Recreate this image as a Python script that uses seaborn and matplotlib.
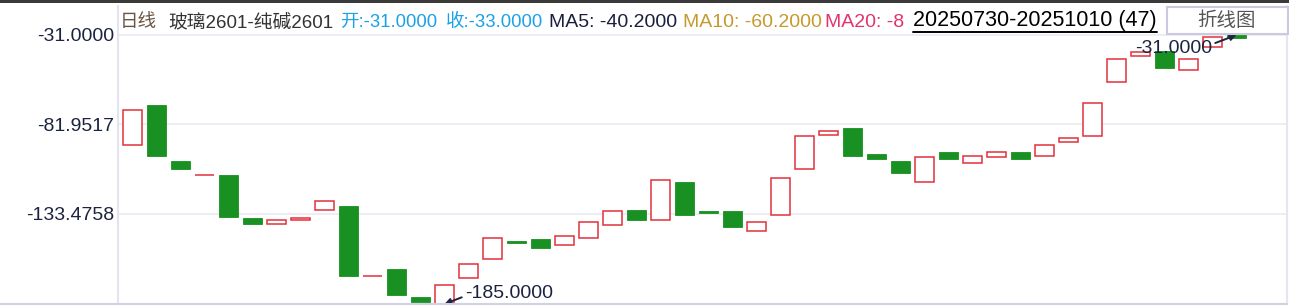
import matplotlib
matplotlib.use("Agg")
import matplotlib.pyplot as plt
from matplotlib.patches import Rectangle
from matplotlib.lines import Line2D
import numpy as np
import pandas as pd
import seaborn as sns

# ---------------- data ----------------
opens = [-94, -71, -103, -111, -111, -136, -139, -137, -131, -129,
         -169, -165, -181, -185, -170, -159, -149, -148, -151, -147,
         -140, -131, -137, -115, -132, -132, -143, -134, -108, -88,
         -84, -99, -103, -115, -98, -104, -101, -98, -100, -92,
         -89, -58, -43, -40, -51, -38, -31]
closes = [-74, -100, -108, -111, -135, -139, -137, -136, -126, -169,
          -169, -180, -184, -174, -162, -147, -150, -153, -146, -138,
          -132, -137, -114, -134, -133, -141, -138, -113, -89, -86,
          -100, -102, -110, -101, -102, -100, -98, -102, -94, -90,
          -70, -45, -41, -50, -45, -32, -33]
ytick_values = [-133.4758, -81.9517, -31.0]
ytick_labels = ["-133.4758", "-81.9517", "-31.0000"]
header_parts = [
    ("日线", "#6b5545", 13.3),
    ("玻璃2601-纯碱2601", "#333333", 13.5),
    ("开:-31.0000", "#1ba1e6", 13.3),
    ("收:-33.0000", "#1ba1e6", 13.3),
    ("MA5: -40.2000", "#1a1f3c", 14),
    ("MA10: -60.2000", "#c49a2c", 14),
    ("MA20: -8", "#e2336e", 14),
]
header_x = [120, 168, 340, 446, 549, 683, 825]
date_label = "20250730-20251010 (47)"
button_label = "折线图"

# ---------------- style ----------------
sns.set_style("white")
FAM = ["Liberation Sans", "Noto Sans CJK SC", "DejaVu Sans"]
plt.rcParams["font.family"] = FAM

W, H = 1289, 307
fx = lambda px: px / W
fy = lambda py: 1 - py / H

RED = "#e2303a"
GREEN = "#189022"
TXT = "#1c2340"

fig = plt.figure(figsize=(W / 100, H / 100), dpi=100)
ax = fig.add_axes([fx(118), 3 / H, (1287 - 118) / W, 298 / H])

n = len(opens)
df = pd.DataFrame({"i": np.arange(n), "o": opens, "c": closes})
df["h"] = df["c"] - df["o"]
sns.barplot(data=df, x="i", y="h", ax=ax, width=0.76, errorbar=None, color=GREEN)

for p, o, c in zip(ax.patches, df["o"], df["c"]):
    lo, hi = min(o, c), max(o, c)
    p.set_y(lo)
    p.set_height(hi - lo)
    if c >= o:
        p.set_facecolor("white")
        p.set_edgecolor(RED)
        p.set_linewidth(1.1)
    else:
        p.set_facecolor(GREEN)
        p.set_edgecolor(GREEN)
        p.set_linewidth(0.6)
    p.set_clip_on(False)

px_per_unit = 269 / 154.0
ax.set_xlim(-14.5 / 24, (1287 - 132.5) / 24)
ax.set_ylim(-185, -185 + 298 / px_per_unit)
ax.set_xticks([])
ax.set_xlabel("")
ax.set_ylabel("")
ax.set_yticks(ytick_values)
ax.set_yticklabels(ytick_labels, fontsize=14, color=TXT, family=FAM)
ax.tick_params(axis="y", length=0, pad=2.5)
ax.yaxis.grid(True, color="#e8e8f0", lw=1.1)
ax.set_axisbelow(True)
ax.spines["top"].set_visible(False)
ax.spines["bottom"].set_visible(False)
ax.spines["left"].set_color("#e4e4f0")
ax.spines["left"].set_linewidth(1.5)
ax.spines["right"].set_color("#e6e6f2")
ax.spines["right"].set_linewidth(1.5)

# low / high annotations
lows = np.minimum(opens, closes)
highs = np.maximum(opens, closes)
i_lo = int(np.argmin(lows))
i_hi = int(np.argmax(highs))
arrow = dict(arrowstyle="-|>", color="#1f2440", lw=1.4, mutation_scale=9,
             shrinkA=0, shrinkB=0)
ax.annotate(f"{lows[i_lo]:.4f}", xy=(i_lo, lows[i_lo]), xytext=(20.5, 6),
            textcoords="offset pixels", ha="left", va="baseline", fontsize=14,
            color=TXT, annotation_clip=False,
            arrowprops=dict(arrow, relpos=(0, 0.35)))
ax.annotate(f"{highs[i_hi]:.4f}", xy=(i_hi, highs[i_hi]), xytext=(-24.5, -18),
            textcoords="offset pixels", ha="right", va="baseline", fontsize=14,
            color=TXT, annotation_clip=False,
            arrowprops=dict(arrow, relpos=(1, 0.75)))

# ---------------- chrome ----------------
fig.add_artist(Rectangle((0, fy(2.5)), 1, 2.5 / H, transform=fig.transFigure,
                         facecolor="#3a3a3a", edgecolor="none", zorder=6))
fig.add_artist(Line2D([0, fx(1287)], [fy(304), fy(304)], transform=fig.transFigure,
                      color="#d0d0e6", lw=1.5, zorder=4))

for (txt, col, fs), x in zip(header_parts, header_x):
    fig.text(fx(x), fy(27), txt, color=col, fontsize=fs, ha="left",
             va="baseline", family=FAM, zorder=7)

dt = fig.text(fx(913), fy(26), date_label, color="black", fontsize=15.5,
              ha="left", va="baseline", family=FAM, zorder=7)
fig.canvas.draw()
bb = dt.get_window_extent()
fig.add_artist(Line2D([bb.x0 / W, bb.x1 / W], [fy(31.5), fy(31.5)],
                      transform=fig.transFigure, color="black", lw=1.4, zorder=7))

fig.add_artist(Rectangle((fx(1167), fy(34)), (1288 - 1167) / W, 27 / H,
                         transform=fig.transFigure, facecolor="white",
                         edgecolor="#c9c9e0", lw=1.5, zorder=8))
fig.text(fx(1227), fy(20.5), button_label, color="#555555", fontsize=14,
         ha="center", va="center", family=FAM, zorder=9)

fig.savefig("out.png", dpi=100, facecolor="white")
